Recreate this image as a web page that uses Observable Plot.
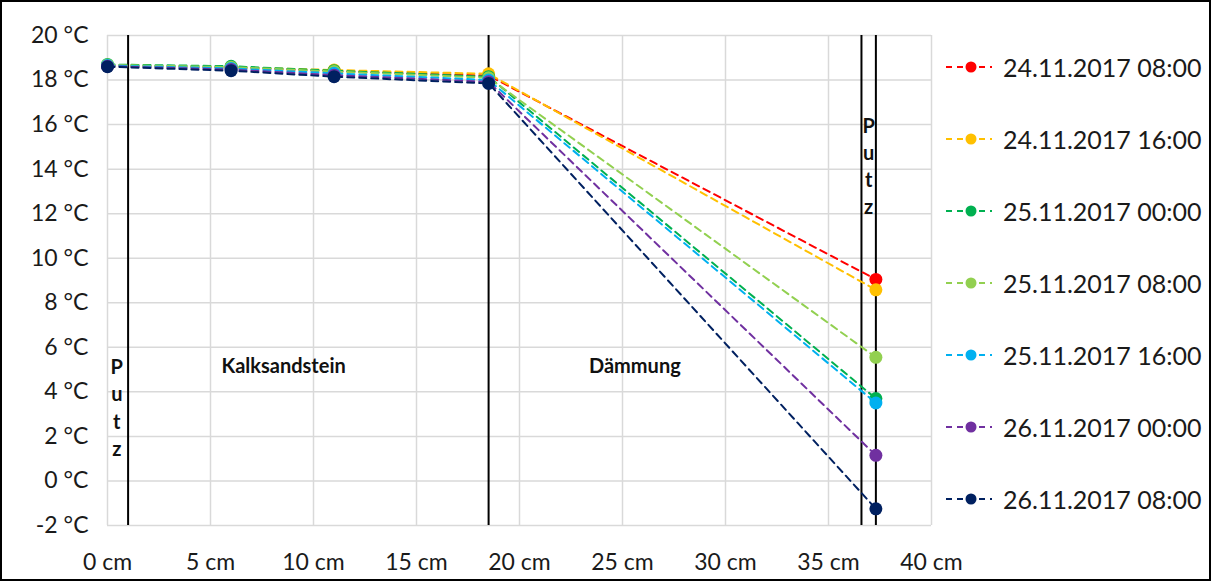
<!DOCTYPE html>
<html><head><meta charset="utf-8">
<script src="https://cdn.jsdelivr.net/npm/d3@7"></script>
<script src="https://cdn.jsdelivr.net/npm/@observablehq/plot@0.6"></script>
<style>
body{margin:0;background:#fff;font-family:Lato,"Open Sans",sans-serif;}
#wrap{position:relative;width:1211px;height:581px;overflow:hidden;background:#fff}
#chart{position:absolute;left:0;top:0}
#frame{position:absolute;left:0;top:0;width:1211px;height:581px;box-sizing:border-box;border:2px solid #000;pointer-events:none}
.lg{position:absolute;left:944px;height:30px;display:flex;align-items:center;font-size:25px;color:#1a1a1a;white-space:nowrap}
.lg svg{margin-right:9px}
</style></head>
<body>
<div id="wrap"><div id="chart"></div><div id="legend"></div><div id="frame"></div></div>
<script>
// Positions of measuring points (cm)
const positions = [0, 6, 11, 18.5, 37.3];
const seriesNames = ["24.11.2017 08:00","24.11.2017 16:00","25.11.2017 00:00","25.11.2017 08:00","25.11.2017 16:00","26.11.2017 00:00","26.11.2017 08:00"];
const seriesColors = ["#ff0000","#ffc000","#00b050","#92d050","#00b0f0","#7030a0","#002060"];
const s1 = [18.65, 18.55, 18.40, 18.20, 9.05];
const s2 = [18.65, 18.58, 18.45, 18.28, 8.58];
const s3 = [18.70, 18.62, 18.42, 18.15, 3.70];
const s4 = [18.68, 18.58, 18.38, 18.10, 5.55];
const s5 = [18.65, 18.52, 18.30, 18.00, 3.50];
const s6 = [18.62, 18.47, 18.22, 17.92, 1.15];
const s7 = [18.60, 18.42, 18.15, 17.85, -1.25];
const seriesValues = [s1, s2, s3, s4, s5, s6, s7];
const xTicks = [0, 5, 10, 15, 20, 25, 30, 35, 40];
const yTicks = [-2, 0, 2, 4, 6, 8, 10, 12, 14, 16, 18, 20];
// Layer boundaries (cm)
const layerBounds = [1.0, 18.5, 36.6, 37.3];
const layerLabels = [
  {text: "Kalksandstein", x: 8.55, y: 5.15, vertical: false},
  {text: "Dämmung", x: 25.6, y: 5.15, vertical: false},
  {text: "P\nu\nt\nz", x: 0.45, y: 3.35, vertical: true},
  {text: "P\nu\nt\nz", x: 36.95, y: 14.2, vertical: true}
];

const data = seriesNames.flatMap((name, i) => positions.map((p, j) => ({series: name, x: p, t: seriesValues[i][j]})));

const marks = [
  Plot.gridX(xTicks, {stroke: "#d9d9d9", strokeOpacity: 1, strokeWidth: 1.5}),
  Plot.gridY(yTicks, {stroke: "#d9d9d9", strokeOpacity: 1, strokeWidth: 1.5}),
  Plot.ruleX(layerBounds, {stroke: "#000", strokeWidth: 2}),
  Plot.text(layerLabels.filter(d => !d.vertical), {x: "x", y: "y", text: "text", fontWeight: "bold", fontSize: 20, fill: "#111"}),
  Plot.text(layerLabels.filter(d => d.vertical), {x: "x", y: "y", text: "text", fontWeight: "bold", fontSize: 20, lineHeight: 1.36, fill: "#111"}),
  Plot.axisX({ticks: xTicks, tickFormat: d => `${d} cm`, tickSize: 0, tickPadding: 28, fontSize: 23, label: null}),
  Plot.axisY({ticks: yTicks, tickFormat: d => `${d} °C`, tickSize: 0, tickPadding: 19, fontSize: 23, label: null}),
];
seriesNames.forEach(name => {
  const d = data.filter(r => r.series === name);
  marks.push(Plot.line(d, {x: "x", y: "t", stroke: "series", strokeWidth: 2, strokeDasharray: "7,5"}));
  marks.push(Plot.dot(d, {x: "x", y: "t", fill: "series", r: 6.5}));
});

const chart = Plot.plot({
  width: 1211, height: 581,
  marginLeft: 107, marginRight: 280, marginTop: 35, marginBottom: 56,
  x: {domain: [0, 40]},
  y: {domain: [-2, 20]},
  color: {domain: seriesNames, range: seriesColors},
  style: {fontFamily: "Lato, 'Open Sans', sans-serif", color: "#1a1a1a", background: "transparent"},
  marks
});
document.getElementById("chart").appendChild(chart);

const legend = document.getElementById("legend");
const legendTop = 67, legendStep = 72;
seriesNames.forEach((name, i) => {
  const div = document.createElement("div");
  div.className = "lg";
  div.style.top = (legendTop + i * legendStep - 15) + "px";
  const c = seriesColors[i];
  div.innerHTML = `<svg width="50" height="14"><line x1="2" x2="48" y1="7" y2="7" stroke="${c}" stroke-width="2" stroke-dasharray="6,5"/><circle cx="27" cy="7" r="5.5" fill="${c}"/></svg><span>${name}</span>`;
  legend.appendChild(div);
});
</script>
</body></html>
